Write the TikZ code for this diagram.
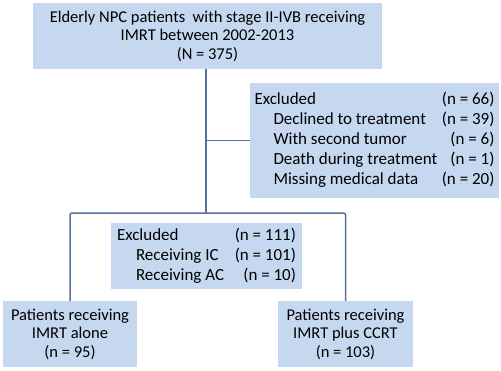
\documentclass[tikz,border=0pt]{standalone}
\usepackage{fontspec}
\setmainfont{Carlito}
\usepackage{xcolor}
\usepackage{tikz}
\usetikzlibrary{positioning}

\definecolor{boxfill}{RGB}{197,216,239}
\definecolor{linkblue}{RGB}{84,113,160}

\begin{document}
\begin{tikzpicture}[
    x=1pt, y=-1pt,
    box/.style={rectangle, fill=boxfill, inner sep=0pt, minimum height=66pt, align=center, font=\fontsize{16.5}{18.5}\selectfont},
    exclbox/.style={rectangle, fill=boxfill, inner sep=0pt, align=left, font=\fontsize{17}{20}\selectfont},
    link/.style={draw=linkblue, line width=1.5pt, rounded corners=2pt}
]
\useasboundingbox (0,0) rectangle (501,370);

% Nodes
\node[box, minimum width=349pt] (cohort) at (207.5,36) {Elderly NPC patients\ \ with stage II-IVB receiving\\IMRT between 2002-2013\\(N = 375)};
\node[exclbox, minimum width=249pt, minimum height=115pt] (excla) at (374.5,140.5) {%
  \begin{tabular*}{240pt}{@{}l@{\extracolsep{\fill}}r@{}}
  Excluded & (n = 66)\\
  \hspace*{19pt}Declined to treatment & (n = 39)\\
  \hspace*{19pt}With second tumor & (n = 6)\\
  \hspace*{19pt}Death during treatment & (n = 1)\\
  \hspace*{19pt}Missing medical data & (n = 20)
  \end{tabular*}};
\node[exclbox, minimum width=191pt, minimum height=66pt] (exclb) at (206.5,256) {%
  \begin{tabular*}{179pt}{@{}l@{\extracolsep{\fill}}r@{}}
  Excluded & (n = 111)\\
  \hspace*{19pt}Receiving IC & (n = 101)\\
  \hspace*{19pt}Receiving AC & (n = 10)
  \end{tabular*}};
\node[box, minimum width=134pt] (alone) at (70,334) {Patients receiving\\IMRT alone\\(n = 95)};
\node[box, minimum width=135pt] (ccrt) at (345.5,334) {Patients receiving\\IMRT plus CCRT\\(n = 103)};

% Connections
\coordinate (split) at (206,213);
\draw[link] (cohort.south -| split) -- (split);
\draw[link] (split |- excla.west) -- (excla.west);
\draw[link] (alone.north) |- (split) -| (ccrt.north);

\end{tikzpicture}
\end{document}
